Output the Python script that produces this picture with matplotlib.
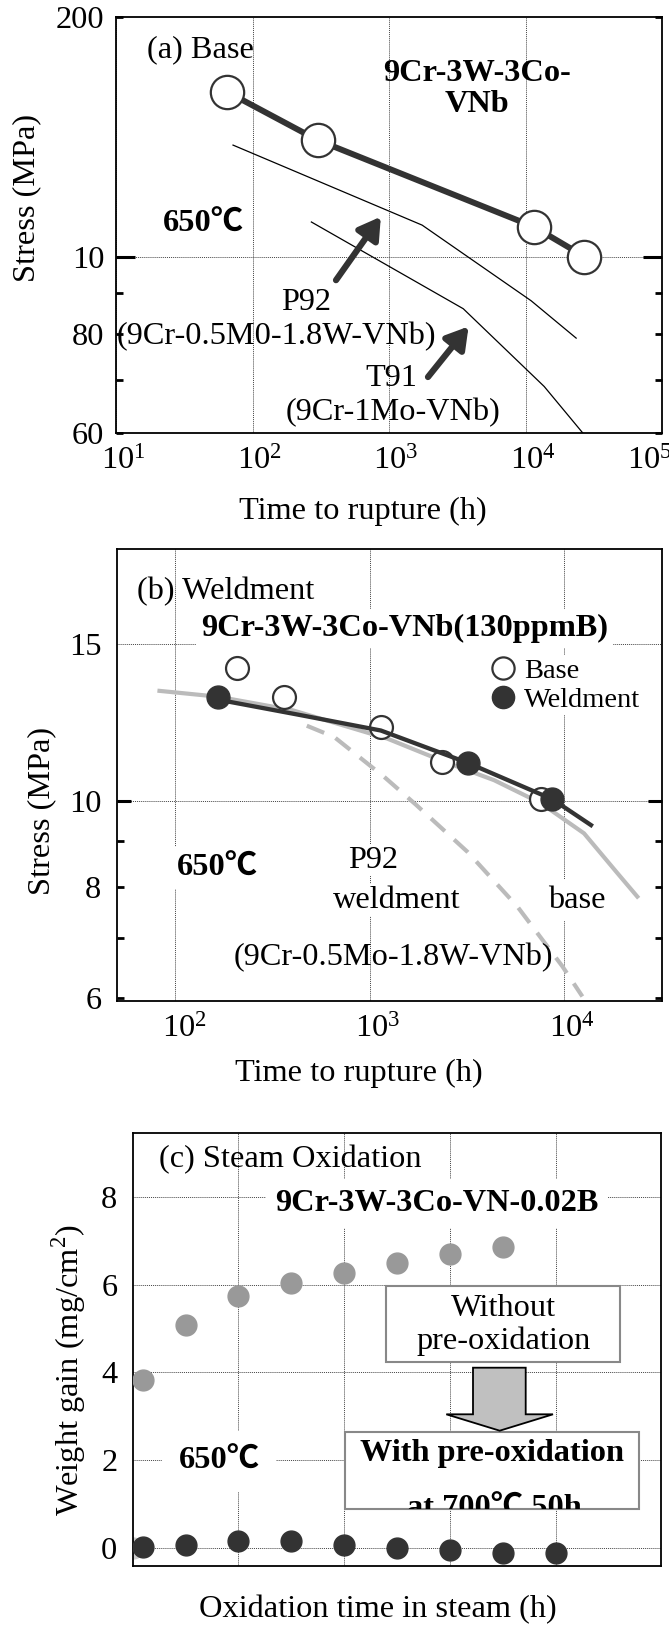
import matplotlib
matplotlib.use("Agg")
import matplotlib.pyplot as plt
from matplotlib.lines import Line2D
from matplotlib.patches import Rectangle, Polygon
from matplotlib.ticker import FixedLocator, FixedFormatter, NullLocator, LogFormatterSciNotation
from matplotlib.transforms import ScaledTranslation

plt.rcParams["font.family"] = ["Liberation Serif", "Noto Sans CJK JP"]
plt.rcParams["mathtext.fontset"] = "custom"
plt.rcParams["mathtext.rm"] = "Liberation Serif"
plt.rcParams["font.size"] = 23.3

# (a) base metal, creep rupture at 650C
a_new_t = [65, 300, 11500, 27000]
a_new_s = [161, 140, 109, 100]
a_p92_t = [72, 1750, 11000, 23500]
a_p92_s = [138, 109.5, 88, 79]
a_t91_t = [270, 3500, 13700, 26400]
a_t91_s = [110.5, 86, 68.7, 60]
a_decades = [10, 100, 1000, 10000, 100000]

# (b) weldment
b_base_t = [209, 363, 1142, 2367, 7590]
b_base_s = [14.12, 13.10, 12.10, 11.05, 10.04]
b_weld_t = [166, 3210, 8710]
b_weld_s = [13.10, 11.02, 10.04]
b_fit_t = [166, 432, 1142, 3210, 8710, 13750]
b_fit_s = [13.0, 12.5, 12.0, 11.03, 10.04, 9.39]
b_p92base_t = [83, 166, 400, 1234, 2415, 4365, 7590, 12670, 18800, 23800]
b_p92base_s = [13.30, 13.1, 12.65, 11.75, 11.07, 10.55, 9.94, 9.19, 8.29, 7.80]
b_p92weld_t = [475, 657, 1188, 1730, 3185, 5755, 9800, 12420]
b_p92weld_s = [12.15, 11.80, 10.64, 9.90, 8.76, 7.60, 6.51, 6.02]
b_decades = [100, 1000, 10000]

# (c) steam oxidation at 650C
c_t_without = [20, 100, 200, 300, 400, 500, 600, 700]
c_w_without = [3.82, 5.08, 5.74, 6.03, 6.26, 6.50, 6.70, 6.85]
c_t_with = [20, 100, 200, 300, 400, 500, 600, 700, 800]
c_w_with = [0.02, 0.07, 0.14, 0.14, 0.06, -0.02, -0.06, -0.12, -0.12]
c_t_start = [0]
c_w_start = [0]

W, H = 669, 1626
DARK = "#333333"
fig = plt.figure(figsize=(W / 100, H / 100), dpi=100)


def fx(x):
    return x / W


def fy(y):
    return 1 - y / H


def axes_px(left, top, right, bottom):
    return fig.add_axes([fx(left), fy(bottom), (right - left) / W, (bottom - top) / H])


def put(x, y, s, box=False, pad=0.15, **kw):
    kw.setdefault("ha", "center")
    kw.setdefault("va", "center")
    if box:
        kw["bbox"] = dict(boxstyle=f"square,pad={pad}", fc="white", ec="none")
    return fig.text(fx(x), fy(y), s, **kw)


def frame(ax):
    for sp in ax.spines.values():
        sp.set_linewidth(1.3)
        sp.set_color("black")
    ax.set_axisbelow(True)
    ax.grid(True, which="major", ls=(0, (1, 1)), lw=0.7, color="#444444")


def axis_labels(ax, xl, xpos, yl, ypos):
    ax.set_xlabel(xl, va="center")
    ax.xaxis.set_label_coords(fx(xpos[0]), fy(xpos[1]), transform=fig.transFigure)
    ax.set_ylabel(yl, va="center")
    ax.yaxis.set_label_coords(fx(ypos[0]), fy(ypos[1]), transform=fig.transFigure)


def nudge_xlabels(ax, shifts):
    # the decade labels sit a little right of their ticks in the original
    ticks = ax.xaxis.get_major_ticks(len(shifts))
    for tick, dx in zip(ticks, shifts):
        lbl = tick.label1
        lbl.set_transform(lbl.get_transform() + ScaledTranslation(dx / 100, 0, fig.dpi_scale_trans))


# ---------------- (a) Base ----------------
ax = axes_px(116, 16.7, 662, 433.3)
ax.plot(a_p92_t, a_p92_s, color="black", lw=0.9, zorder=2)
ax.plot(a_t91_t, a_t91_s, color="black", lw=0.9, zorder=2)
ax.plot(a_new_t, a_new_s, color=DARK, lw=4.3, marker="o", ms=24, mfc="white",
        mec=DARK, mew=1.6, zorder=3)
arrow = dict(arrowstyle="-|>,head_length=0.55,head_width=0.33", lw=4.5, color=DARK,
             shrinkA=0, shrinkB=0)
ax.annotate("", xy=(871, 112.2), xytext=(409, 93.4), arrowprops=arrow)
ax.annotate("", xy=(3828, 81.7), xytext=(1930, 70.6), arrowprops=arrow)
ax.set_xscale("log")
ax.set_yscale("log")
ax.set_xlim(10, 1e5)
ax.set_ylim(60, 200)
ax.xaxis.set_major_locator(FixedLocator(a_decades))
ax.xaxis.set_major_formatter(LogFormatterSciNotation())
ax.xaxis.set_minor_locator(NullLocator())
ax.yaxis.set_major_locator(FixedLocator([100]))
ax.yaxis.set_major_formatter(FixedFormatter(["10"]))
ax.yaxis.set_minor_locator(FixedLocator([60, 70, 80, 90, 200]))
ax.yaxis.set_minor_formatter(FixedFormatter(["60", "", "80", "", "200"]))
ax.tick_params(axis="y", which="major", direction="in", length=14, width=2.2,
               left=True, right=True, pad=8.5)
ax.tick_params(axis="y", which="minor", direction="in", length=5, width=2,
               left=True, right=True, pad=8.5)
ax.tick_params(axis="x", which="both", length=0, pad=9)
frame(ax)
nudge_xlabels(ax, [7, 7, 7, 7, -13])
axis_labels(ax, "Time to rupture (h)", (362.6, 511.7), "Stress (MPa)", (26.7, 197.5))

put(200, 50, "(a) Base")
put(477, 89, "9Cr-3W-3Co-\nVNb", fontweight="bold", linespacing=1.05)
put(203, 224, "650℃", box=True, pad=0.3, fontweight="bold")
put(306, 302, "P92")
put(276, 337, "(9Cr-0.5M0-1.8W-VNb)")
put(391.5, 378, "T91")
put(393, 413, "(9Cr-1Mo-VNb)")

# ---------------- (b) Weldment ----------------
ax = axes_px(116.7, 549.3, 662.3, 1001)
ax.plot(b_p92base_t, b_p92base_s, color="#bbbbbb", lw=3, zorder=2)
ax.plot(b_p92weld_t, b_p92weld_s, color="#bbbbbb", lw=3, ls=(0, (4.5, 3)), zorder=2)
ax.plot(b_base_t, b_base_s, ls="none", marker="o", ms=16.5, mfc="white", mec=DARK,
        mew=1.6, zorder=3)
ax.plot(b_fit_t, b_fit_s, color=DARK, lw=3.1, zorder=4)
ax.plot(b_weld_t, b_weld_s, ls="none", marker="o", ms=16.5, mfc=DARK, mec=DARK,
        zorder=5)
ax.set_xscale("log")
ax.set_yscale("log")
ax.set_xlim(50, 32000)
ax.set_ylim(5.95, 19.2)
ax.xaxis.set_major_locator(FixedLocator(b_decades))
ax.xaxis.set_major_formatter(LogFormatterSciNotation())
ax.xaxis.set_minor_locator(NullLocator())
ax.yaxis.set_major_locator(FixedLocator([10, 15]))
ax.yaxis.set_major_formatter(FixedFormatter(["10", "15"]))
ax.yaxis.set_minor_locator(FixedLocator([6, 7, 8, 9]))
ax.yaxis.set_minor_formatter(FixedFormatter(["6", "", "8", ""]))
ax.tick_params(axis="y", which="major", direction="in", length=10, width=2.2,
               left=True, right=True, pad=11)
ax.tick_params(axis="y", which="minor", direction="in", length=5, width=2,
               left=True, right=True, pad=11)
ax.tick_params(axis="x", which="both", length=0, pad=9)
frame(ax)
t15 = ax.yaxis.get_major_ticks()[1]
t15.tick1line.set_visible(False)
t15.tick2line.set_visible(False)
nudge_xlabels(ax, [9, 8, 8])
axis_labels(ax, "Time to rupture (h)", (358.7, 1073.3), "Stress (MPa)", (41.7, 811))

handles = [
    Line2D([], [], ls="none", marker="o", ms=16, mfc="white", mec=DARK, mew=1.6),
    Line2D([], [], ls="none", marker="o", ms=16, mfc=DARK, mec=DARK),
]
leg = ax.legend(handles, ["Base", "Weldment"], loc="upper left",
                bbox_to_anchor=(fx(486), fy(655)), bbox_transform=fig.transFigure,
                fontsize=20.5, handlelength=1.0, handletextpad=0.25, labelspacing=0.1,
                borderpad=0.1, borderaxespad=0, frameon=True, fancybox=False,
                framealpha=1, edgecolor="none", facecolor="white")

put(225.3, 591.7, "(b) Weldment")
put(404.2, 628.3, "9Cr-3W-3Co-VNb(130ppmB)", box=True, fontweight="bold")
put(217, 868.3, "650℃", box=True, pad=0.2, fontweight="bold")
put(373, 860, "P92", box=True, pad=0.05)
put(397, 900, "weldment", box=True, pad=0.05)
put(577, 900, "base", box=True, pad=0.2)
put(393.3, 957.5, "(9Cr-0.5Mo-1.8W-VNb)")

# ---------------- (c) Steam oxidation ----------------
ax = axes_px(132.7, 1133.3, 661.3, 1566)
ax.plot(c_t_start, c_w_start, ls="none", marker="o", ms=15, mfc="#cccccc",
        mec="#cccccc", zorder=2)
ax.plot(c_t_without, c_w_without, ls="none", marker="o", ms=15, mfc="#999999",
        mec="#999999", zorder=3)
ax.plot(c_t_with, c_w_with, ls="none", marker="o", ms=15, mfc=DARK, mec=DARK, zorder=3)
ax.set_xlim(0, 1000)
ax.set_ylim(-0.42, 9.45)
ax.set_xticks([200, 400, 600, 800])
ax.set_xticklabels([])
ax.set_yticks([0, 2, 4, 6, 8])
ax.tick_params(axis="both", length=0)
ax.tick_params(axis="y", pad=11)
frame(ax)
axis_labels(ax, "Oxidation time in steam (h)", (377.6, 1610),
            "Weight gain (mg/cm$^2$)", (69, 1370))

put(290, 1160, "(c) Steam Oxidation")
put(437, 1203.3, "9Cr-3W-3Co-VN-0.02B", box=True, pad=0.3, fontweight="bold")
put(219, 1461.7, "650℃", box=True, pad=0.5, fontweight="bold")

box1 = Rectangle((fx(386.3), fy(1361.7)), (620.3 - 386.3) / W, (1361.7 - 1286) / H,
                 transform=fig.transFigure, fc="white", ec="#888888", lw=1.5, zorder=4)
box2 = Rectangle((fx(345.3), fy(1508.7)), (638.7 - 345.3) / W, (1508.7 - 1432.3) / H,
                 transform=fig.transFigure, fc="white", ec="#888888", lw=1.5, zorder=4)
fig.add_artist(box1)
fig.add_artist(box2)
shape = [(473, 1367.7), (525.7, 1367.7), (525.7, 1414.3), (553, 1414.3),
         (499.7, 1430.7), (446.3, 1414.3), (473, 1414.3)]
fig.add_artist(Polygon([(fx(x), fy(y)) for x, y in shape], closed=True,
                       transform=fig.transFigure, fc="#c0c0c0", ec="black",
                       lw=1.3, zorder=4))
put(503.5, 1325, "Without\npre-oxidation", zorder=5, linespacing=1.15)
put(491.8, 1453.3, "With pre-oxidation", fontweight="bold", zorder=5)
t = put(494.7, 1516, "at 700℃,50h", fontweight="bold", zorder=5, va="baseline",
        clip_on=True)
t.set_clip_path(box2)

fig.savefig("out.png", dpi=100)
